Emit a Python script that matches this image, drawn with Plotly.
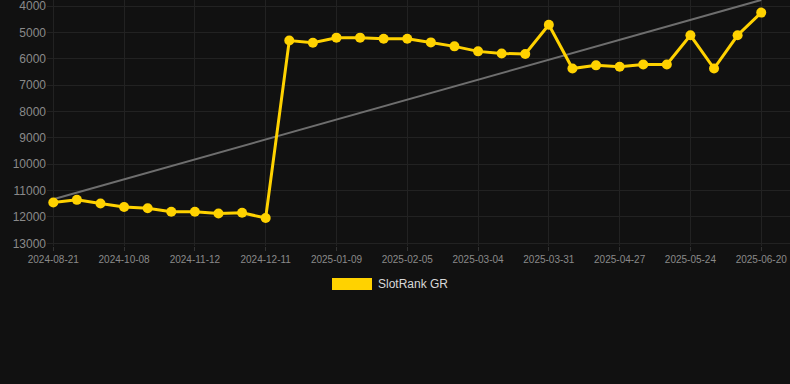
import plotly.graph_objects as go

dates = [
    "2024-08-21", "2024-09-06", "2024-09-22", "2024-10-08", "2024-10-20",
    "2024-10-31", "2024-11-12", "2024-11-22", "2024-12-01", "2024-12-11",
    "2024-12-21", "2024-12-31", "2025-01-09", "2025-01-18", "2025-01-27",
    "2025-02-05", "2025-02-14", "2025-02-23", "2025-03-04", "2025-03-13",
    "2025-03-22", "2025-03-31", "2025-04-09", "2025-04-18", "2025-04-27",
    "2025-05-06", "2025-05-15", "2025-05-24", "2025-06-02", "2025-06-11",
    "2025-06-20",
]
rank_gr = [
    11450, 11350, 11490, 11620, 11670, 11800, 11800, 11870, 11840, 12040,
    5310, 5390, 5200, 5200, 5240, 5240, 5380, 5530, 5720, 5800,
    5820, 4710, 6370, 6250, 6300, 6220, 6220, 5110, 6370, 5110,
    4250,
]
trend_x = [dates[0], dates[-1]]
trend_y = [11330, 3770]
y_ticks = [4000, 5000, 6000, 7000, 8000, 9000, 10000, 11000, 12000, 13000]
y_tick_labels = [str(v) for v in y_ticks]
x_ticks = dates[::3]
series_name = "SlotRank GR"

YELLOW = "#FFD200"
BG = "#111111"
GRID = "#222222"
TEXT = "#8a8a8a"

fig = go.Figure()
fig.add_trace(go.Scatter(
    x=trend_x, y=trend_y, mode="lines",
    line=dict(color="#6e6e6e", width=2),
    showlegend=False, hoverinfo="skip",
))
fig.add_trace(go.Scatter(
    x=dates, y=rank_gr, mode="lines+markers", name=series_name,
    line=dict(color=YELLOW, width=3),
    marker=dict(color=YELLOW, size=10),
    showlegend=False,
))

# legend drawn manually (wide colour box + label)
fig.add_shape(type="rect", xref="paper", yref="paper",
              x0=(332 - 47) / 743, x1=(372 - 47) / 743,
              y0=(246 - 290) / 246, y1=(246 - 278) / 246,
              fillcolor=YELLOW, line=dict(width=0))
fig.add_annotation(xref="paper", yref="paper",
                   x=(376 - 47) / 743, y=(246 - 284) / 246,
                   text=series_name, showarrow=False,
                   xanchor="left", yanchor="middle",
                   font=dict(size=12, color="#d8d8d8",
                             family="Liberation Sans, Arial, sans-serif"))

fig.update_layout(
    width=790, height=384,
    margin=dict(l=47, r=0, t=0, b=138),
    paper_bgcolor=BG, plot_bgcolor=BG,
    font=dict(family="Liberation Sans, Arial, sans-serif", color=TEXT),
    xaxis=dict(
        type="category", categoryorder="array", categoryarray=dates,
        range=[-0.267, 31.22],
        tickmode="array", tickvals=x_ticks, ticktext=x_ticks,
        tickfont=dict(size=10, color=TEXT),
        ticklabeloverflow="allow",
        showgrid=True, gridcolor=GRID, gridwidth=1,
        ticks="outside", ticklen=4, tickcolor="#333333",
        showline=False, zeroline=False,
    ),
    yaxis=dict(
        range=[13100, 3772],
        tickmode="array", tickvals=y_ticks, ticktext=y_tick_labels,
        tickfont=dict(size=12, color=TEXT),
        ticklabeloverflow="allow",
        showgrid=True, gridcolor=GRID, gridwidth=1,
        ticks="", showline=False, zeroline=False,
    ),
)

fig.write_html(
    "out.html",
    config={"displayModeBar": False},
    post_script="document.body.style.margin='0';document.body.style.background='#111111';",
)
